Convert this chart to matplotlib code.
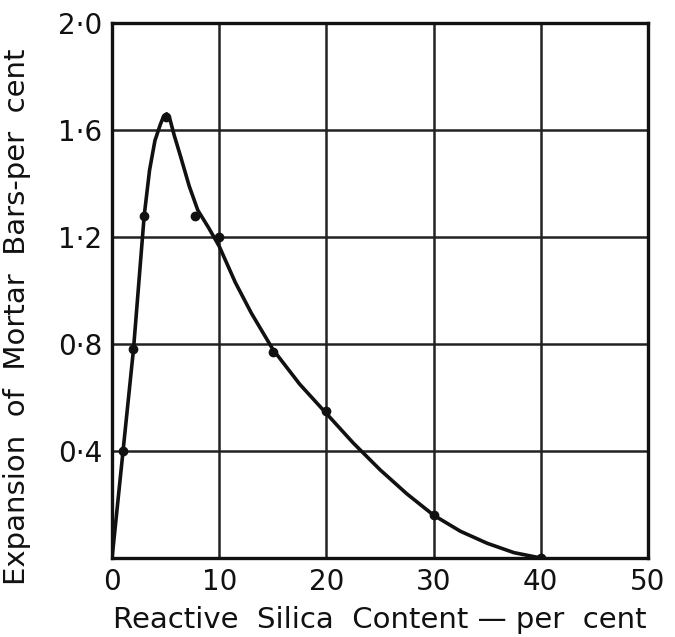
import matplotlib
matplotlib.use("Agg")
import matplotlib.pyplot as plt

# measured points
silica = [1, 2, 3, 5, 7.7, 10, 15, 20, 30, 40]
expansion = [0.40, 0.78, 1.28, 1.65, 1.28, 1.20, 0.77, 0.55, 0.16, 0.0]

# drawn curve
curve_x = [0, 1, 2, 2.5, 3, 3.5, 4.0, 4.5, 4.8, 5.1, 5.4, 5.8, 6.4, 7.2, 8.0,
           9.0, 9.5, 10, 11.5, 13, 15, 17.5, 20, 22.5, 25, 27.5, 30, 32.5,
           35, 37.5, 40]
curve_y = [0, 0.39, 0.78, 1.03, 1.28, 1.45, 1.56, 1.62, 1.65, 1.66, 1.64,
           1.58, 1.50, 1.39, 1.30, 1.235, 1.20, 1.165, 1.03, 0.915, 0.78,
           0.65, 0.54, 0.43, 0.33, 0.24, 0.16, 0.10, 0.055, 0.02, 0.0]

x_ticks = [0, 10, 20, 30, 40, 50]
y_ticks = [0.4, 0.8, 1.2, 1.6, 2.0]
y_labels = ["0·4", "0·8", "1·2", "1·6", "2·0"]

plt.rcParams['font.family'] = ['DejaVu Sans']

fig = plt.figure(figsize=(6.75, 6.37), dpi=100)
ax = fig.add_axes([0.166, 0.124, 0.794, 0.840])

ax.plot(curve_x, curve_y, color='#111111', lw=2.6, solid_capstyle='round',
        solid_joinstyle='round', zorder=3)
ax.plot(silica, expansion, 'o', color='#111111', ms=6, zorder=4)

ax.set_xlim(0, 50)
ax.set_ylim(0, 2.0)
ax.set_xticks(x_ticks)
ax.set_yticks(y_ticks)
ax.set_yticklabels(y_labels)
ax.tick_params(length=0, labelsize=20, colors='#111111', pad=7)
ax.grid(True, color='#222222', lw=1.8)
ax.set_axisbelow(True)
for s in ax.spines.values():
    s.set_linewidth(2.4)
    s.set_color('#111111')

ax.set_xlabel("Reactive  Silica  Content — per  cent", fontsize=21, color='#111111')
ax.set_ylabel("Expansion  of  Mortar  Bars-per  cent", fontsize=21, color='#111111')
ax.xaxis.set_label_coords(0.5, -0.09)
ax.yaxis.set_label_coords(-0.152, 0.45)

fig.savefig("out.png", dpi=100)
